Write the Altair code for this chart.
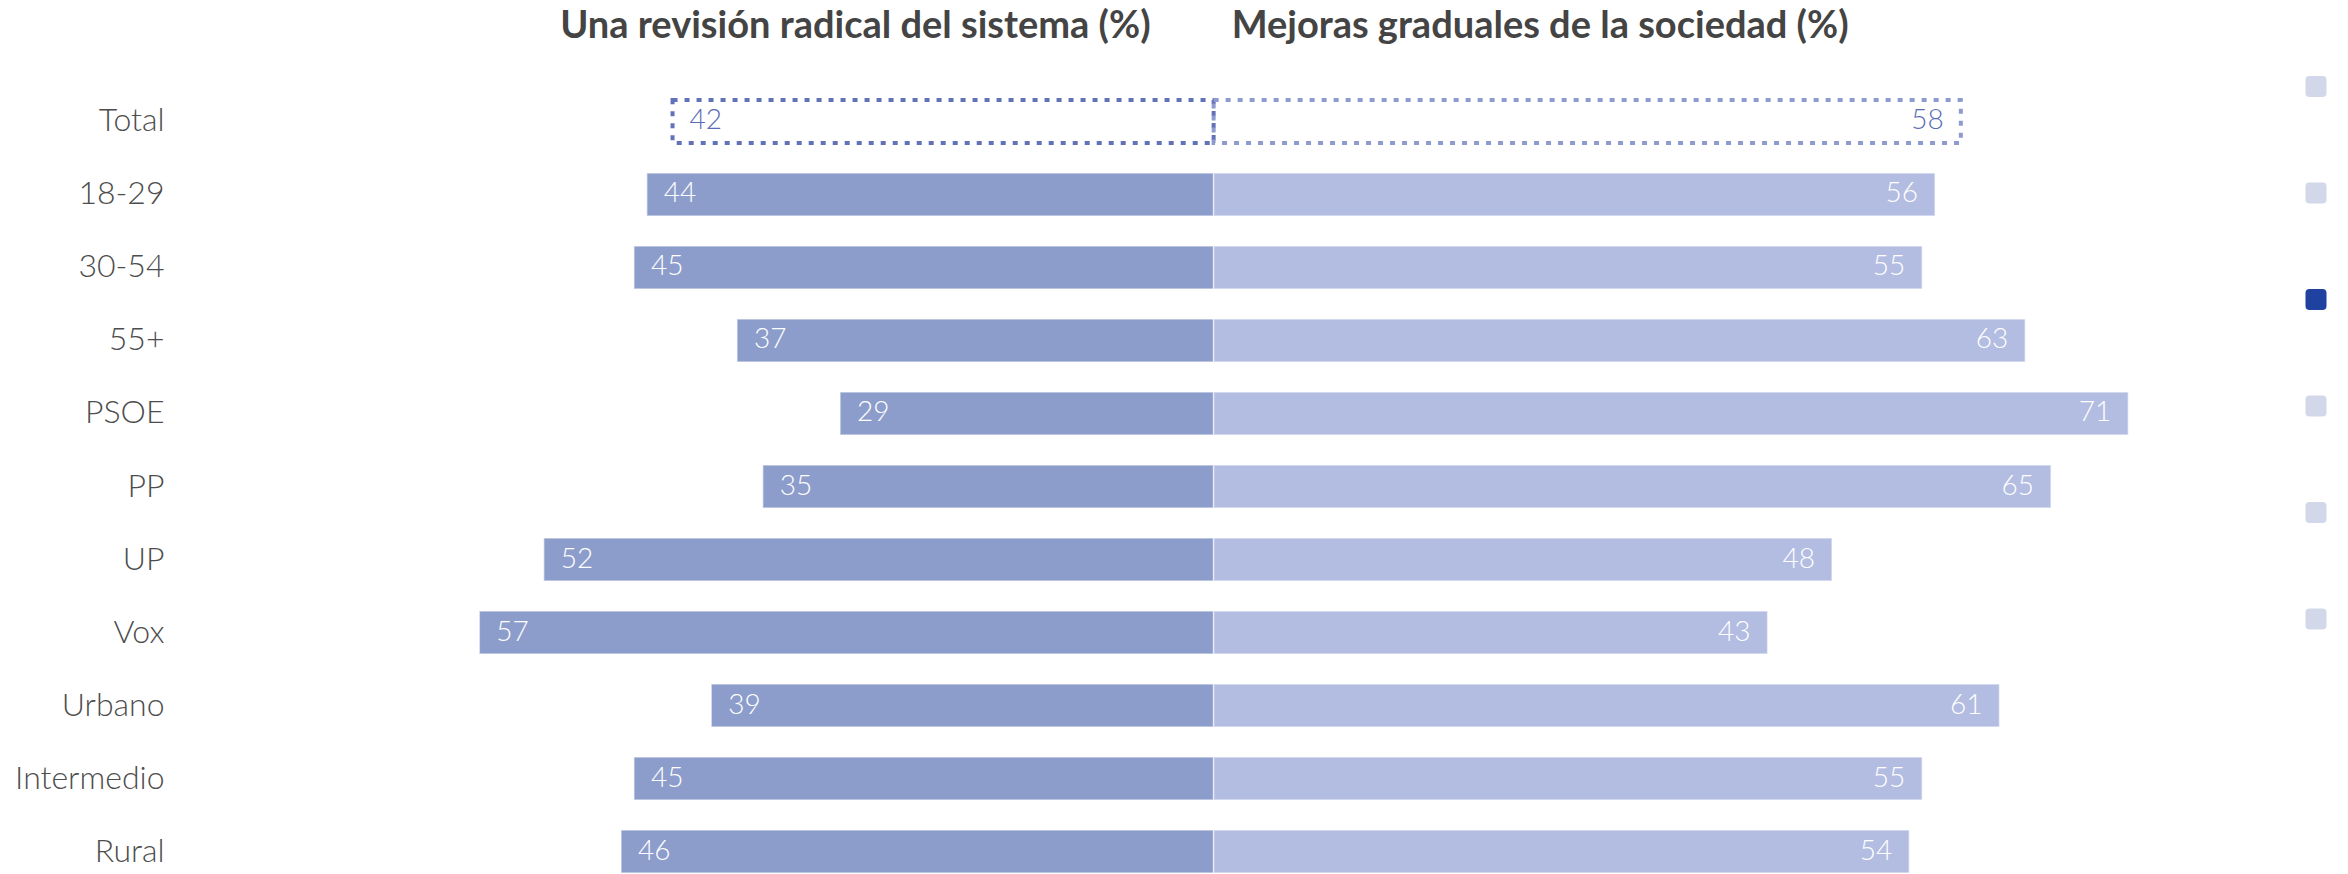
import altair as alt
import pandas as pd

# ---- data ----
categories = ["Total", "18-29", "30-54", "55+", "PSOE", "PP", "UP", "Vox",
              "Urbano", "Intermedio", "Rural"]
radical = [42, 44, 45, 37, 29, 35, 52, 57, 39, 45, 46]
gradual = [58, 56, 55, 63, 71, 65, 48, 43, 61, 55, 54]
headers = ["Una revisión radical del sistema (%)", "Mejoras graduales de la sociedad (%)"]
nav_index = [0, 1, 2, 3, 4, 5]
nav_active = [False, False, True, False, False, False]

rows = []
for c, r, g in zip(categories, radical, gradual):
    rows.append({"row": c, "side": "radical", "x0": -r, "x1": 0, "value": r})
    rows.append({"row": c, "side": "gradual", "x0": 0, "x1": g, "value": g})
df = pd.DataFrame(rows)
nav = pd.DataFrame({"idx": nav_index, "active": nav_active})

W, H = 2145, 866
xscale = alt.Scale(domain=[-80, 86.5], nice=False, zero=False)
yscale = alt.Scale(domain=categories, range=[92, 865], paddingInner=0.411, paddingOuter=0)

Y = alt.Y("row:N", scale=yscale, sort=categories,
          axis=alt.Axis(title=None, domain=False, ticks=False, tickSize=0, grid=False,
                        labelFont="Lato", labelFontWeight=300, labelFontSize=32,
                        labelColor="#4d4d4d", labelPadding=19, labelAlign="right",
                        minExtent=175, maxExtent=175))

base = alt.Chart(df)
side_fill = alt.Color("side:N", legend=None,
                      scale=alt.Scale(domain=["radical", "gradual"], range=["#8c9dcb", "#b3bde1"]))

bars = base.transform_filter("datum.row != 'Total'").mark_bar(
    stroke="white", strokeWidth=1.5, strokeOpacity=0.55
).encode(
    x=alt.X("x0:Q", scale=xscale, axis=None),
    x2="x1:Q",
    y=Y,
    color=side_fill,
)

total = base.transform_filter("datum.row == 'Total'").mark_bar(
    fillOpacity=0, strokeWidth=4, strokeDash=[5, 7]
).encode(
    x=alt.X("x0:Q", scale=xscale, axis=None),
    x2="x1:Q",
    y=Y,
    stroke=alt.Stroke("side:N", legend=None,
                      scale=alt.Scale(domain=["radical", "gradual"], range=["#6272b9", "#8e9bcf"])),
)

txt_color = alt.condition("datum.row == 'Total'", alt.value("#5b6cb5"), alt.value("white"))

left_txt = base.transform_filter("datum.side == 'radical'").mark_text(
    align="left", baseline="middle", dx=17, font="Lato", fontWeight=300, fontSize=28
).encode(x=alt.X("x0:Q", scale=xscale, axis=None), y=Y, text="value:Q", color=txt_color)

right_txt = base.transform_filter("datum.side == 'gradual'").mark_text(
    align="right", baseline="middle", dx=-17, font="Lato", fontWeight=300, fontSize=28
).encode(x=alt.X("x1:Q", scale=xscale, axis=None), y=Y, text="value:Q", color=txt_color)

hdr = pd.DataFrame({"row": ["Total", "Total"], "text": headers, "side": ["radical", "gradual"], "zero": [0, 0]})
hdr_left = alt.Chart(hdr).transform_filter("datum.side == 'radical'").mark_text(
    align="right", baseline="alphabetic", dx=-63, dy=-83, font="Lato", fontWeight="bold",
    fontSize=38, color="#444444"
).encode(x=alt.X("zero:Q", scale=xscale, axis=None), y=Y, text="text:N")
hdr_right = alt.Chart(hdr).transform_filter("datum.side == 'gradual'").mark_text(
    align="left", baseline="alphabetic", dx=18, dy=-83, font="Lato", fontWeight="bold",
    fontSize=38, color="#444444"
).encode(x=alt.X("zero:Q", scale=xscale, axis=None), y=Y, text="text:N")

rounded = ("M -0.62 -1 L 0.62 -1 Q 1 -1 1 -0.62 L 1 0.62 Q 1 1 0.62 1 L -0.62 1 "
           "Q -1 1 -1 0.62 L -1 -0.62 Q -1 -1 -0.62 -1 Z")
navdots = alt.Chart(nav).mark_point(shape=rounded, filled=True, size=441, opacity=1, strokeWidth=0).encode(
    x=alt.value(2133),
    y=alt.Y("idx:Q", scale=alt.Scale(domain=[0, 5], range=[78.5, 611], nice=False, zero=False), axis=None),
    color=alt.condition("datum.active", alt.value("#1f42a0"), alt.value("#d2d8ea")),
)

main = alt.layer(bars, total, left_txt, right_txt, hdr_left, hdr_right)
chart = alt.layer(main, navdots).resolve_scale(y="independent", color="independent").properties(
    width=W, height=H,
    autosize=alt.AutoSizeParams(type="none"),
    padding={"left": 175, "top": 0, "right": 0, "bottom": 0},
).configure_view(stroke=None)

chart.save("out.html", embed_options={"renderer": "svg", "actions": False})
